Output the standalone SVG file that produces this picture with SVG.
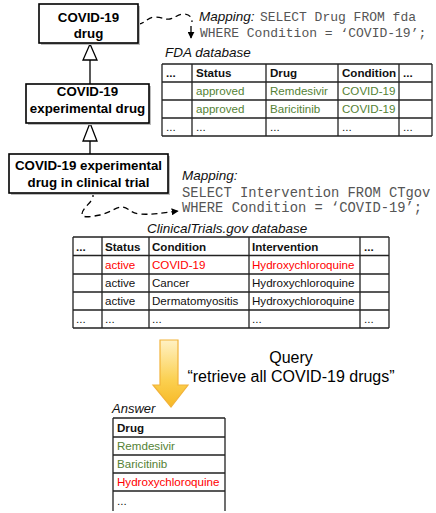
<svg xmlns="http://www.w3.org/2000/svg" width="436" height="513" viewBox="0 0 436 513">
<style>
.node{fill:#fff;stroke:#000;stroke-width:1.6}
.shadow{fill:#bbb}
.nt{font-family:"Liberation Sans",Arial,sans-serif;font-weight:bold;font-size:13.3px;fill:#000;text-anchor:middle}
.lbl{font-family:"Liberation Sans",Arial,sans-serif;font-style:italic;font-size:13.5px;fill:#111}
.code{font-family:"Liberation Mono","Courier New",monospace;font-size:13px;fill:#555}
.grid{stroke:#222;stroke-width:1.3;fill:none}
.tt{font-family:"Liberation Sans",Arial,sans-serif;font-size:11.6px;fill:#111}
.th{font-family:"Liberation Sans",Arial,sans-serif;font-size:11.6px;font-weight:bold;fill:#111}
.g{fill:#548235}
.r{fill:#ff0000}
.gen{stroke:#000;stroke-width:1.3;fill:none}
.tri{fill:#fff;stroke:#000;stroke-width:1.3}
.dash{stroke:#000;stroke-width:1.3;fill:none;stroke-dasharray:6 4}
.q{font-family:"Liberation Sans",Arial,sans-serif;font-size:16px;fill:#000;text-anchor:middle}
</style>
<defs>
<marker id="ah" viewBox="0 0 10 10" refX="9" refY="5" markerWidth="7" markerHeight="7" orient="auto" markerUnits="userSpaceOnUse">
<path d="M0,0 L10,5 L0,10 z" fill="#000"/>
</marker>
<linearGradient id="yg" x1="0" y1="0" x2="0" y2="1">
<stop offset="0" stop-color="#fff1c4"/>
<stop offset="0.6" stop-color="#fbd050"/>
<stop offset="1" stop-color="#f7b824"/>
</linearGradient>
</defs>

<g id="connectors">
<path class="gen" d="M90,60 L90,84"/>
<path class="tri" d="M90,44 L97,60 L83,60 z"/>
<path class="gen" d="M90,141 L90,154"/>
<path class="tri" d="M90,123 L97,141 L83,141 z"/>
<path class="dash" d="M138,24 C145,24 147,17 155,17 C162,17 165,20 170,19 C176,18 177,14 184,14 C190,14 192,18 192,22"/>
<path class="gen" d="M191,26 L191,38" marker-end="url(#ah)"/>
<path class="gen" d="M93,193 L93,197"/>
<path class="dash" d="M91,201 C87,206 82,210 82,214 C82,218 90,217 100,215 C110,213 117,206 123,207 C129,208 130,213 140,214 C150,215 162,213 178,211" marker-end="url(#ah)"/>
</g>

<g id="node-covid-drug">
<rect class="shadow" x="41" y="6" width="99" height="39"/>
<rect class="node" x="39" y="4" width="99" height="39"/>
<text class="nt" x="88.5" y="21.5">COVID-19</text>
<text class="nt" x="88.5" y="38">drug</text>
</g>

<g id="node-experimental">
<rect class="shadow" x="28" y="86" width="123" height="39"/>
<rect class="node" x="26" y="84" width="123" height="39"/>
<text class="nt" x="87.5" y="96">COVID-19</text>
<text class="nt" x="87.5" y="112.5">experimental drug</text>
</g>

<g id="node-clinical-trial">
<rect class="shadow" x="11" y="156" width="159" height="39"/>
<rect class="node" x="9" y="154" width="159" height="39"/>
<text class="nt" x="88.5" y="170">COVID-19 experimental</text>
<text class="nt" x="88.5" y="187">drug in clinical trial</text>
</g>

<g id="mapping-fda">
<text class="lbl" x="199" y="21">Mapping:</text>
<text class="code" x="260" y="21">SELECT Drug FROM fda</text>
<text class="code" x="200" y="37">WHERE Condition = ‘COVID-19’;</text>
</g>

<g id="fda-table">
<text class="lbl" x="165" y="57">FDA database</text>
<path class="grid" d="M162,64 H432 M162,82 H432 M162,100 H432 M162,118 H432 M162,136 H432 M162,64 V136 M192,64 V136 M266,64 V136 M338,64 V136 M399,64 V136 M432,64 V136"/>
<text class="th" x="166" y="77">...</text>
<text class="th" x="196" y="77">Status</text>
<text class="th" x="270" y="77">Drug</text>
<text class="th" x="342" y="77">Condition</text>
<text class="th" x="403" y="77">...</text>
<text class="tt g" x="196" y="95">approved</text>
<text class="tt g" x="270" y="95">Remdesivir</text>
<text class="tt g" x="342" y="95">COVID-19</text>
<text class="tt g" x="196" y="113">approved</text>
<text class="tt g" x="270" y="113">Baricitinib</text>
<text class="tt g" x="342" y="113">COVID-19</text>
<text class="tt" x="166" y="131">...</text>
<text class="tt" x="196" y="131">...</text>
<text class="tt" x="270" y="131">...</text>
<text class="tt" x="342" y="131">...</text>
<text class="tt" x="403" y="131">...</text>
</g>

<g id="mapping-ct">
<text class="lbl" x="182" y="180">Mapping:</text>
<text class="code" x="182" y="197" style="font-size:13.8px">SELECT Intervention FROM CTgov</text>
<text class="code" x="182" y="212" style="font-size:13.8px">WHERE Condition = ‘COVID-19’;</text>
</g>

<g id="ct-table">
<text class="lbl" x="147" y="233">ClinicalTrials.gov database</text>
<path class="grid" d="M73,237 H389 M73,255.5 H389 M73,274 H389 M73,292 H389 M73,310 H389 M73,328 H389 M73,237 V328 M102,237 V328 M149,237 V328 M249,237 V328 M360,237 V328 M389,237 V328"/>
<text class="th" x="76" y="250.5">...</text>
<text class="th" x="105" y="250.5">Status</text>
<text class="th" x="152" y="250.5">Condition</text>
<text class="th" x="252" y="250.5">Intervention</text>
<text class="th" x="364" y="250.5">...</text>
<text class="tt r" x="105" y="269">active</text>
<text class="tt r" x="152" y="269">COVID-19</text>
<text class="tt r" x="252" y="269">Hydroxychloroquine</text>
<text class="tt" x="105" y="287">active</text>
<text class="tt" x="152" y="287">Cancer</text>
<text class="tt" x="252" y="287">Hydroxychloroquine</text>
<text class="tt" x="105" y="305">active</text>
<text class="tt" x="152" y="305">Dermatomyositis</text>
<text class="tt" x="252" y="305">Hydroxychloroquine</text>
<text class="tt" x="76" y="323">...</text>
<text class="tt" x="105" y="323">...</text>
<text class="tt" x="152" y="323">...</text>
<text class="tt" x="252" y="323">...</text>
<text class="tt" x="364" y="323">...</text>
</g>

<g id="query-arrow">
<path d="M160,340 H178 V385 H188 L171,407 L153,385 H160 z" fill="url(#yg)" stroke="#f2b33a" stroke-width="1.2"/>
</g>

<g id="query-label">
<text class="q" x="291" y="363">Query</text>
<text class="q" x="291" y="382">“retrieve all COVID-19 drugs”</text>
</g>

<g id="answer-table">
<text class="lbl" x="112" y="413" style="font-size:13px">Answer</text>
<path class="grid" d="M113,418 H225 M113,437 H225 M113,455 H225 M113,473 H225 M113,491 H225 M113,418 V511 M225,418 V511"/>
<text class="th" x="117" y="432">Drug</text>
<text class="tt g" x="117" y="450">Remdesivir</text>
<text class="tt g" x="117" y="468">Baricitinib</text>
<text class="tt r" x="117" y="486">Hydroxychloroquine</text>
<text class="tt" x="117" y="505">...</text>
</g>
</svg>
